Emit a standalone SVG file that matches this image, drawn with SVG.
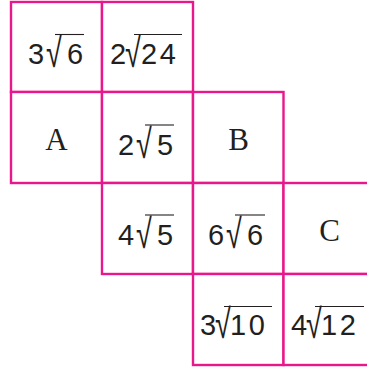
<svg xmlns="http://www.w3.org/2000/svg" width="367" height="367" viewBox="0 0 367 367">
<style>
.cell{fill:#fff;stroke:#E8178A;stroke-width:2.4}
.n{font-family:"Liberation Sans",Arial,sans-serif;font-size:29px;fill:#231f20}
.w{letter-spacing:2.5px}
.r{font-family:"Liberation Sans",Arial,sans-serif;font-size:30px;fill:#231f20}
.v{stroke:#231f20;stroke-width:1.1}
.l{font-family:"Liberation Serif","Times New Roman",serif;font-size:31px;fill:#231f20;text-anchor:middle}
</style>
<rect width="367" height="367" fill="#fff"/>
<g id="c11"><rect class="cell" x="11" y="2" width="91" height="90"/><text class="n" x="28" y="64">3</text><text class="r" transform="translate(46,66.5) scale(0.96,1.37)">√</text><line class="v" x1="55" y1="34.5" x2="84" y2="34.5"/><text class="n" x="67" y="64">6</text></g>
<g id="c12"><rect class="cell" x="102" y="2" width="91" height="90"/><text class="n" x="110" y="64">2</text><text class="r" transform="translate(125,66.5) scale(0.96,1.37)">√</text><line class="v" x1="134" y1="34.5" x2="182" y2="34.5"/><text class="n w" x="141" y="64">24</text></g>
<g id="c21"><rect class="cell" x="11" y="92" width="91" height="91"/><text class="l" x="56.5" y="150">A</text></g>
<g id="c22"><rect class="cell" x="102" y="92" width="91" height="91"/><text class="n" x="118" y="155">2</text><text class="r" transform="translate(136,157.5) scale(0.96,1.37)">√</text><line class="v" x1="145" y1="125" x2="174" y2="125"/><text class="n" x="157" y="155">5</text></g>
<g id="c23"><rect class="cell" x="193" y="92" width="90.5" height="91"/><text class="l" x="238.5" y="150">B</text></g>
<g id="c32"><rect class="cell" x="102" y="183" width="91" height="91"/><text class="n" x="118" y="245">4</text><text class="r" transform="translate(136,247.5) scale(0.96,1.37)">√</text><line class="v" x1="145" y1="215" x2="174" y2="215"/><text class="n" x="157" y="245">5</text></g>
<g id="c33"><rect class="cell" x="193" y="183" width="90.5" height="91"/><text class="n" x="208" y="245">6</text><text class="r" transform="translate(226,247.5) scale(0.96,1.37)">√</text><line class="v" x1="235" y1="215" x2="265" y2="215"/><text class="n" x="247" y="245">6</text></g>
<g id="c34"><rect class="cell" x="283.5" y="183" width="95" height="91"/><text class="l" x="329.5" y="241">C</text></g>
<g id="c43"><rect class="cell" x="193" y="274" width="90.5" height="91"/><text class="n" x="200" y="335">3</text><text class="r" transform="translate(215,337.5) scale(0.96,1.37)">√</text><line class="v" x1="224" y1="306.5" x2="272" y2="306.5"/><text class="n w" x="230" y="335">10</text></g>
<g id="c44"><rect class="cell" x="283.5" y="274" width="95" height="91"/><text class="n" x="291" y="335">4</text><text class="r" transform="translate(306,337.5) scale(0.96,1.37)">√</text><line class="v" x1="315" y1="306.5" x2="364" y2="306.5"/><text class="n w" x="321" y="335">12</text></g>
<g id="connectors"></g>
</svg>
